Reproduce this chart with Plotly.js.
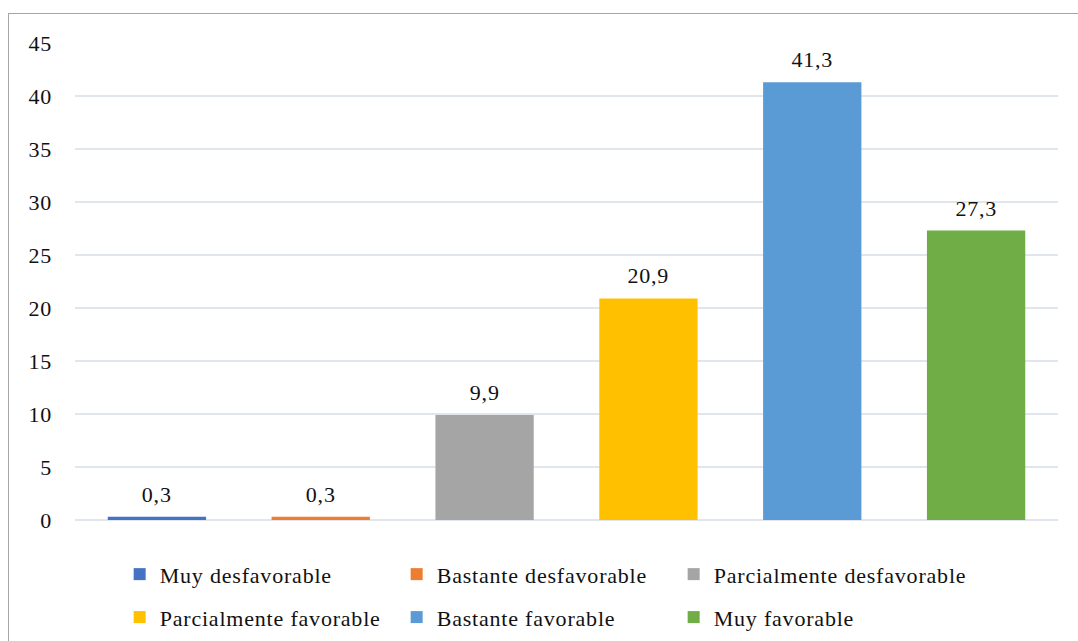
<!DOCTYPE html>
<html>
<head>
<meta charset="utf-8">
<script src="https://cdn.plot.ly/plotly-3.0.1.min.js"></script>
<style>
  html, body { margin: 0; padding: 0; background: #fff; }
  #wrap { position: relative; width: 1078px; height: 641px; overflow: hidden; }
  #chart { width: 1078px; height: 641px; }
  #chart svg text { letter-spacing: 0.8px; }
  #chart .legend .scrollbox, #chart .legend2 .scrollbox, #chart g.legend, #chart g.legend2 { clip-path: none !important; }
  #frame { position: absolute; left: 8px; top: 13px; width: 1100px; height: 700px;
           border-left: 1px solid #a6a6a6; border-top: 1px solid #a6a6a6; pointer-events: none; }
</style>
</head>
<body>
<div id="wrap">
  <div id="chart"></div>
  <div id="frame"></div>
</div>
<script>
const categories = ["Muy desfavorable", "Bastante desfavorable", "Parcialmente desfavorable",
                    "Parcialmente favorable", "Bastante favorable", "Muy favorable"];
const values = [0.3, 0.3, 9.9, 20.9, 41.3, 27.3];
const colors = ["#4472C4", "#ED7D31", "#A5A5A5", "#FFC000", "#5B9BD5", "#70AD47"];
const yTicks = [0, 5, 10, 15, 20, 25, 30, 35, 40, 45];

const FONT = "Liberation Serif";
const FS = 22;

const traces = categories.map((c, i) => ({
  type: "bar",
  name: c,
  x: [c],
  y: [values[i]],
  width: 0.6,
  marker: { color: colors[i], line: { width: 0 } },
  legend: i < 3 ? "legend" : "legend2",
  hoverinfo: "skip"
}));

const annotations = categories.map((c, i) => ({
  x: c, y: values[i], xref: "x", yref: "y",
  text: String(values[i]).replace(".", ","),
  showarrow: false, yanchor: "bottom", yshift: 8,
  font: { family: FONT, size: FS, color: "#111" }
}));

const legendBase = {
  orientation: "h",
  xref: "container", yref: "container",
  xanchor: "left", yanchor: "middle",
  x: 0.111,
  font: { family: FONT, size: FS, color: "#111" },
  entrywidth: 232, entrywidthmode: "pixels",
  bgcolor: "rgba(0,0,0,0)", borderwidth: 0,
  itemclick: false, itemdoubleclick: false
};

const layout = {
  width: 1078, height: 641,
  margin: { l: 75, r: 20, t: 43, b: 121 },
  paper_bgcolor: "#fff", plot_bgcolor: "#fff",
  barmode: "overlay",
  showlegend: true,
  font: { family: FONT, size: FS, color: "#111" },
  xaxis: {
    type: "category", categoryarray: categories, categoryorder: "array",
    showticklabels: false, showgrid: false, zeroline: false, showline: false, ticks: ""
  },
  yaxis: {
    range: [0, 45], tickvals: yTicks, ticktext: yTicks.map(String),
    showgrid: true, gridcolor: "#e1e5ec", gridwidth: 2,
    zeroline: true, zerolinecolor: "#e1e5ec", zerolinewidth: 2,
    showline: false, ticks: "", ticklabelstandoff: 22,
    tickfont: { family: FONT, size: FS, color: "#111" }
  },
  legend: Object.assign({}, legendBase, { y: 0.104 }),
  legend2: Object.assign({}, legendBase, { y: 0.037 }),
  annotations: annotations
};

Plotly.newPlot("chart", traces, layout, { staticPlot: true, displayModeBar: false });
</script>
</body>
</html>
